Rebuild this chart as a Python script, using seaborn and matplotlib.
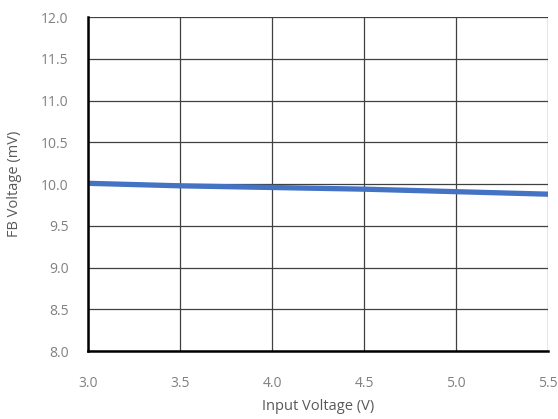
import matplotlib
matplotlib.use("Agg")
import matplotlib.pyplot as plt
import seaborn as sns
import pandas as pd

# Input voltage vs FB voltage
input_v = [3.0, 3.5, 4.0, 4.5, 5.0, 5.5]
fb_mv = [10.01, 9.98, 9.96, 9.94, 9.91, 9.88]

df = pd.DataFrame({"Input Voltage (V)": input_v, "FB Voltage (mV)": fb_mv})

sns.set_style("white")
plt.rcParams["font.family"] = ["Open Sans", "DejaVu Sans"]

fig = plt.figure(figsize=(5.58, 4.19), dpi=100)
ax = fig.add_axes([0.158, 0.162, 0.824, 0.797])

sns.lineplot(data=df, x="Input Voltage (V)", y="FB Voltage (mV)", ax=ax,
             color="#4472C4", linewidth=3.8, zorder=3)

ax.set_xlim(3.0, 5.5)
ax.set_ylim(8.0, 12.0)
ax.set_xticks([3.0, 3.5, 4.0, 4.5, 5.0, 5.5])
ax.set_yticks([8.0, 8.5, 9.0, 9.5, 10.0, 10.5, 11.0, 11.5, 12.0])
ax.xaxis.set_major_formatter(matplotlib.ticker.FormatStrFormatter("%.1f"))
ax.yaxis.set_major_formatter(matplotlib.ticker.FormatStrFormatter("%.1f"))

ax.grid(True, color="#404040", linewidth=0.9)
ax.set_axisbelow(True)
for s in ["top", "right"]:
    ax.spines[s].set_visible(False)
for s in ["left", "bottom"]:
    ax.spines[s].set_color("black")
    ax.spines[s].set_linewidth(1.8)
    ax.spines[s].set_zorder(4)

ax.tick_params(axis="both", direction="out", length=4, width=1.8, color="black",
               labelsize=10, labelcolor="#808080")
ax.tick_params(axis="x", pad=14)
ax.tick_params(axis="y", pad=10)
ax.set_xlabel("Input Voltage (V)", fontsize=10.5, color="#595959", labelpad=6)
ax.set_ylabel("FB Voltage (mV)", fontsize=10.5, color="#595959", labelpad=14)

fig.savefig("out.png", dpi=100)
